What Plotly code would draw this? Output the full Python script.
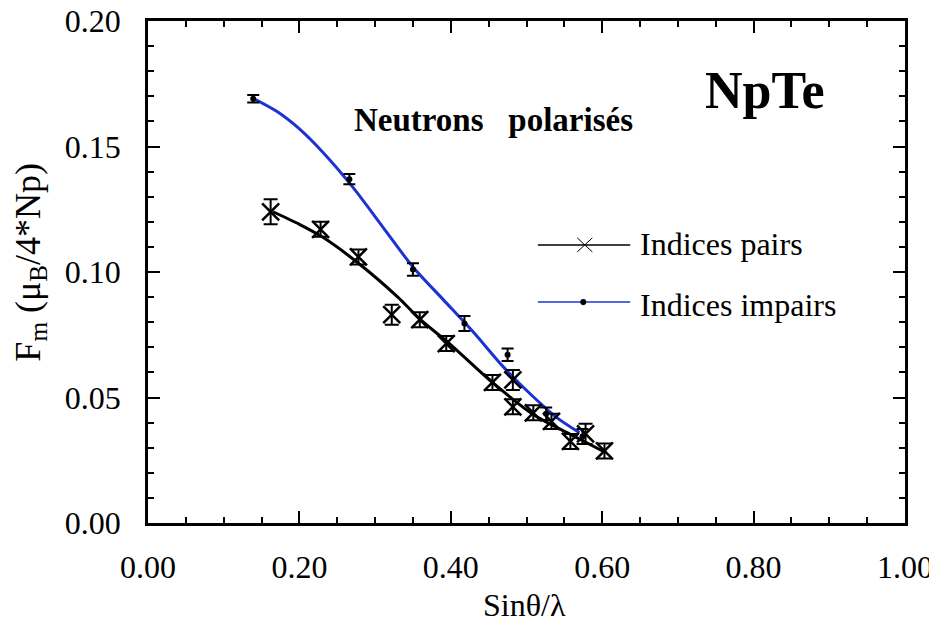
"""NpTe polarised neutron magnetic form factor chart."""

import plotly.graph_objects as go

# Indices pairs (even reflections): measured points and errors
pairs_x = [0.162, 0.228, 0.278, 0.322, 0.359, 0.394, 0.455, 0.482, 0.482,
           0.509, 0.533, 0.558, 0.578, 0.603]
pairs_y = [0.124, 0.117, 0.106, 0.083, 0.081, 0.0715, 0.056, 0.057, 0.0463,
           0.0439, 0.0405, 0.0325, 0.0355, 0.0287]
pairs_err = [0.005, 0.003, 0.003, 0.004, 0.003, 0.003, 0.003, 0.004, 0.003,
             0.003, 0.003, 0.003, 0.004, 0.003]

# Indices impairs (odd reflections): measured points and errors
impairs_x = [0.139, 0.266, 0.350, 0.418, 0.475, 0.526, 0.574]
impairs_y = [0.169, 0.137, 0.101, 0.0795, 0.067, 0.0435, 0.0345]
impairs_err = [0.0015, 0.002, 0.0025, 0.003, 0.0025, 0.0025, 0.003]

# Fitted curves
fit_pairs_x = [0.165, 0.20, 0.23, 0.28, 0.33, 0.36, 0.40, 0.455, 0.51, 0.56, 0.605]
fit_pairs_y = [0.124, 0.119, 0.114, 0.103, 0.090, 0.081, 0.071, 0.056, 0.043,
               0.035, 0.028]
fit_impairs_x = [0.14, 0.17, 0.20, 0.23, 0.27, 0.31, 0.35, 0.39, 0.43, 0.47,
                 0.51, 0.54, 0.57]
fit_impairs_y = [0.169, 0.164, 0.157, 0.148, 0.134, 0.118, 0.102, 0.089, 0.076,
                 0.062, 0.050, 0.042, 0.036]

x_ticks = [0.0, 0.2, 0.4, 0.6, 0.8, 1.0]
y_ticks = [0.0, 0.05, 0.10, 0.15, 0.20]

FONT = "Liberation Serif, Times New Roman, serif"
BLUE = "#1c33d4"
TXT = 32

fig = go.Figure()

fig.add_trace(go.Scatter(
    x=fit_impairs_x, y=fit_impairs_y, mode="lines",
    line=dict(color=BLUE, width=3, shape="spline", smoothing=0.8),
    hoverinfo="skip",
))
fig.add_trace(go.Scatter(
    x=fit_pairs_x, y=fit_pairs_y, mode="lines",
    line=dict(color="black", width=3, shape="spline", smoothing=0.8),
    hoverinfo="skip",
))
fig.add_trace(go.Scatter(
    x=impairs_x, y=impairs_y, mode="markers", name="Indices impairs",
    marker=dict(symbol="circle", size=6, color="black"),
    error_y=dict(type="data", array=impairs_err, color="black",
                 thickness=2, width=6),
))
fig.add_trace(go.Scatter(
    x=pairs_x, y=pairs_y, mode="markers", name="Indices pairs",
    marker=dict(symbol="x-thin", size=17,
                line=dict(color="black", width=2.5)),
    error_y=dict(type="data", array=pairs_err, color="black",
                 thickness=2, width=7),
))

# Hand-drawn legend keys (paper coordinates)
shapes = [
    dict(type="line", xref="paper", yref="paper", x0=0.515, x1=0.637,
         y0=0.554, y1=0.554, line=dict(color="black", width=1.5)),
    dict(type="line", xref="paper", yref="paper", x0=0.515, x1=0.637,
         y0=0.440, y1=0.440, line=dict(color=BLUE, width=1.5)),
    dict(type="line", xref="paper", yref="paper", x0=0.567, x1=0.587,
         y0=0.540, y1=0.568, line=dict(color="black", width=1)),
    dict(type="line", xref="paper", yref="paper", x0=0.567, x1=0.587,
         y0=0.568, y1=0.540, line=dict(color="black", width=1)),
    dict(type="circle", xref="paper", yref="paper", x0=0.571, x1=0.579,
         y0=0.434, y1=0.446, fillcolor="black", line=dict(color="black", width=0)),
]

annotations = [
    dict(text="<b>NpTe</b>", x=0.815, y=0.8625, xanchor="center",
         yanchor="middle", font=dict(family=FONT, size=52, color="black")),
    dict(text="<b>Neutrons\u00a0\u00a0\u00a0polarisés</b>", x=0.270, y=0.803,
         xanchor="left", yanchor="middle",
         font=dict(family=FONT, size=33, color="black")),
    dict(text="Indices pairs", x=0.647, y=0.556, xanchor="left",
         yanchor="middle", font=dict(family=FONT, size=TXT, color="black")),
    dict(text="Indices impairs", x=0.647, y=0.434, xanchor="left",
         yanchor="middle", font=dict(family=FONT, size=TXT, color="black")),
    dict(text="F<sub>m</sub> (μ<sub>B</sub>/4*Np)", x=-0.155, y=0.52,
         xanchor="center", yanchor="middle", textangle=-90,
         font=dict(family=FONT, size=36, color="black")),
    dict(text="Sinθ/λ", x=0.498, y=-0.163, xanchor="center", yanchor="middle",
         font=dict(family=FONT, size=TXT, color="black")),
]
for a in annotations:
    a.update(xref="paper", yref="paper", showarrow=False)

axis_common = dict(
    showline=True, linecolor="black", linewidth=2.5, mirror="ticks",
    ticks="inside", ticklen=12, tickwidth=2, tickcolor="black",
    showgrid=False, zeroline=False, automargin=False,
    ticklabeloverflow="allow",
    tickfont=dict(family=FONT, size=TXT, color="black"),
)

# the page body adds an 8px offset, so the figure is 8px smaller and margins shifted
fig.update_layout(
    width=929, height=618,
    margin=dict(l=140, r=32, t=13, b=103),
    paper_bgcolor="white", plot_bgcolor="white",
    showlegend=False,
    shapes=shapes, annotations=annotations,
    xaxis=dict(
        range=[0, 1], tickvals=x_ticks, tickformat=".2f",
        ticklabelstandoff=14,
        minor=dict(dtick=0.05, ticks="inside", ticklen=6, tickwidth=2,
                   tickcolor="black"),
        **axis_common,
    ),
    yaxis=dict(
        range=[0, 0.2], tickvals=y_ticks, tickformat=".2f",
        ticklabelstandoff=18,
        minor=dict(dtick=0.01, ticks="inside", ticklen=6, tickwidth=2,
                   tickcolor="black"),
        **axis_common,
    ),
)

fig.write_html("out.html")
